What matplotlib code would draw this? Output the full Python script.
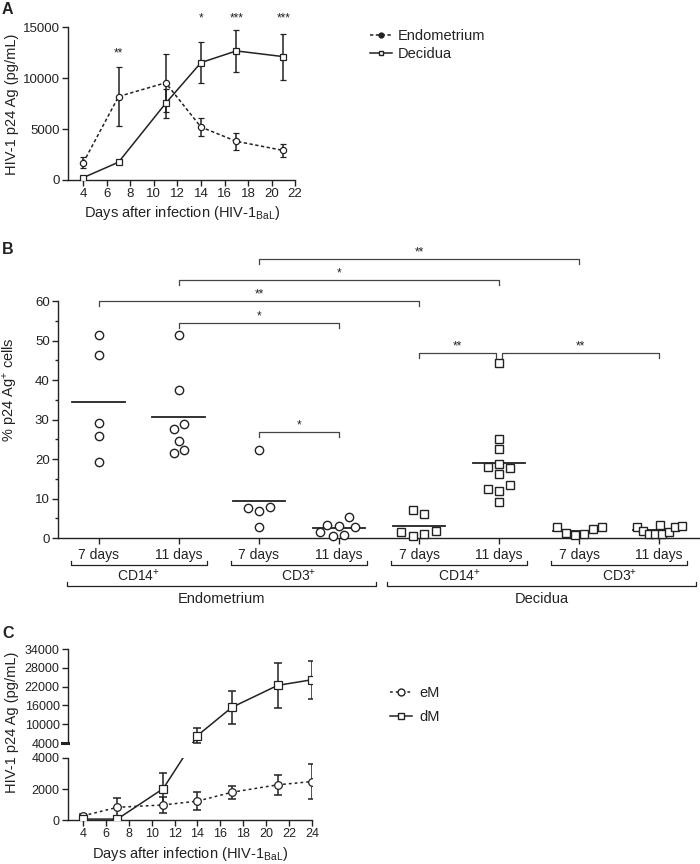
import matplotlib
matplotlib.use("Agg")
import matplotlib.pyplot as plt
from matplotlib.lines import Line2D
import numpy as np

plt.rcParams['font.family'] = ['Liberation Sans', 'DejaVu Sans']
plt.rcParams['mathtext.fontset'] = 'custom'
plt.rcParams['mathtext.rm'] = 'Liberation Sans'
plt.rcParams['mathtext.it'] = 'Liberation Sans:italic'
plt.rcParams['mathtext.bf'] = 'Liberation Sans:bold'

INK = '#222222'

# ---------------- Panel A data ----------------
days_a = [4, 7, 11, 14, 17, 21]
endo_a = [1700, 8200, 9550, 5200, 3800, 2900]
endo_a_err = [550, 2900, 2850, 870, 850, 600]
dec_a = [230, 1750, 7530, 11530, 12680, 12120]
dec_a_err = [120, 200, 1400, 2000, 2050, 2270]
stars_a_days = [7, 14, 17, 21]
stars_a_text = ['**', '*', '***', '***']
stars_a_y = [12450, 15900, 15900, 15900]

# ---------------- Panel B data ----------------
b_labels = ['7 days', '11 days', '7 days', '11 days',
            '7 days', '11 days', '7 days', '11 days']
# jitter offsets (in category units) and values, per group
b_x = [
    [0, 0, 0, 0, 0],
    [0, 0, 0.067, -0.067, 0, 0.067, -0.067],
    [0, -0.14, 0, 0.14, 0],
    [-0.24, -0.15, -0.075, 0, 0.065, 0.125, 0.2],
    [-0.075, 0.067, -0.22, -0.075, 0.067, 0.21],
    [0, 0, 0, 0, -0.14, 0.14, 0, -0.14, 0, 0.14, 0],
    [-0.28, -0.17, -0.05, 0.06, 0.17, 0.28],
    [-0.28, -0.2, -0.125, -0.05, 0.01, 0.04, 0.125, 0.2, 0.28],
]
b_y = [
    [51.5, 46.3, 29.0, 25.7, 19.2],
    [51.3, 37.4, 28.9, 27.7, 24.5, 22.3, 21.5],
    [22.2, 7.5, 6.8, 7.8, 2.9],
    [1.6, 3.2, 0.6, 3.1, 0.7, 5.4, 2.8],
    [7.0, 6.0, 1.6, 0.6, 1.1, 1.9],
    [44.2, 25.1, 22.5, 18.8, 17.9, 17.6, 16.1, 12.4, 12.0, 13.5, 9.1],
    [2.7, 1.3, 0.7, 0.9, 2.3, 2.7],
    [2.7, 1.9, 1.1, 0.9, 3.4, 0.9, 1.6, 2.7, 3.0],
]
b_marker = ['o', 'o', 'o', 'o', 's', 's', 's', 's']
# significance brackets: (group1, group2, level, text)
b_sig = [
    (2, 6, 70.6, '**'),
    (1, 5, 65.3, '*'),
    (0, 4, 60.0, '**'),
    (1, 3, 54.4, '*'),
    (2, 3, 26.8, '*'),
    (4, 4.96, 46.8, '**'),
    (5.04, 7, 46.8, '**'),
]
cell_labels = ['CD14$^{+}$', 'CD3$^{+}$', 'CD14$^{+}$', 'CD3$^{+}$']
tissue_labels = ['Endometrium', 'Decidua']

# ---------------- Panel C data ----------------
days_c = [4, 7, 11, 14, 17, 21, 24]
em_c = [270, 820, 970, 1220, 1790, 2270, 2480]
em_c_err = [100, 570, 500, 570, 420, 630, 1150]
dm_c = [60, 60, 2020, 6400, 15380, 22400, 24200]
dm_c_err = [40, 40, 1030, 2400, 5300, 7300, 6050]

fig = plt.figure(figsize=(7, 8.64), dpi=100)


def style(ax):
    for s in ['top', 'right']:
        ax.spines[s].set_visible(False)
    for s in ['left', 'bottom']:
        ax.spines[s].set_color(INK)
        ax.spines[s].set_linewidth(1.0)
    ax.tick_params(direction='out', length=4, width=1, color=INK,
                   labelcolor=INK, labelsize=9.5, pad=2)


def ylabel(text, x_px, y_px):
    fig.text(x_px / 700, 1 - y_px / 864, text, rotation=90, ha='center',
             va='center', fontsize=10.5, color=INK)


# ================= Panel A =================
axA = fig.add_axes([0.0976, 0.7917, 0.324, 0.1767])
style(axA)
axA.errorbar(days_a, endo_a, yerr=endo_a_err, color=INK, lw=1.1,
             ls=(0, (2.2, 1.6)), marker='o', ms=4.5, mfc='white', mec=INK,
             mew=0.9, capsize=2.5, elinewidth=1.1, capthick=1.1, zorder=3)
axA.errorbar(days_a, dec_a, yerr=dec_a_err, color=INK, lw=1.1, ls='-',
             marker='s', ms=4.5, mfc='white', mec=INK, mew=0.9,
             capsize=2.5, elinewidth=1.1, capthick=1.1, zorder=3)
for d, t, y in zip(stars_a_days, stars_a_text, stars_a_y):
    axA.text(d, y, t, ha='center', va='center', fontsize=8.5, color=INK,
             clip_on=False)
axA.set_xlim(2.73, 22)
axA.set_ylim(0, 15000)
axA.set_xticks(np.arange(4, 23, 2))
axA.set_yticks([0, 5000, 10000, 15000])
axA.set_xlabel('Days after infection (HIV-1$_{\\mathrm{BaL}}$)',
               fontsize=10.5, color=INK, labelpad=3)
ylabel('HIV-1 p24 Ag (pg/mL)', 12, 104)

legA = [Line2D([], [], color=INK, lw=1.1, ls=(0, (2.2, 1.6)), marker='o',
               ms=3.5, mfc=INK, mec=INK),
        Line2D([], [], color=INK, lw=1.1, ls='-', marker='s', ms=3.5,
               mfc='white', mec=INK)]
fig.legend(legA, ['Endometrium', 'Decidua'], loc='upper left',
           bbox_to_anchor=(370 / 700, 1 - 29 / 864), frameon=False,
           fontsize=10.5, handlelength=1.5, handletextpad=0.4,
           labelspacing=0.25, borderpad=0, borderaxespad=0, labelcolor=INK)

# ================= Panel B =================
axB = fig.add_axes([0.0829, 0.3773, 0.9171, 0.2743])
style(axB)
for i in range(8):
    xs = [i + o for o in b_x[i]]
    axB.plot(xs, b_y[i], ls='none', marker=b_marker[i], ms=6,
             mfc='white', mec=INK, mew=1.0, clip_on=False, zorder=3)
    m = np.mean(b_y[i])
    axB.plot([i - 0.33, i + 0.33], [m, m], color=INK, lw=1.3, zorder=2)

for g1, g2, lvl, txt in b_sig:
    axB.plot([g1, g1, g2, g2], [lvl - 1.3, lvl, lvl, lvl - 1.3], color='#444444',
             lw=0.9, clip_on=False)
    axB.text((g1 + g2) / 2, lvl + 0.2, txt, ha='center', va='bottom',
             fontsize=8.5, color=INK, clip_on=False)

axB.set_xlim(-0.51, 7.51)
axB.set_ylim(0, 60)
axB.set_yticks(np.arange(0, 61, 10))
axB.set_yticks(np.arange(5, 60, 10), minor=True)
axB.tick_params(axis='y', which='minor', length=2, width=1, color=INK)
axB.set_xticks(range(8))
axB.set_xticklabels(b_labels, fontsize=10)
axB.tick_params(axis='x', pad=3)
ylabel('% p24 Ag$^{+}$ cells', 11, 390)

tr = axB.get_xaxis_transform()
for k, lab in enumerate(cell_labels):
    c = 2 * k + 0.5
    axB.plot([c - 0.85, c - 0.85, c + 0.85, c + 0.85],
             [-0.097, -0.114, -0.114, -0.097], transform=tr, color=INK,
             lw=0.9, clip_on=False)
    axB.text(c, -0.157, lab, transform=tr, ha='center', va='center',
             fontsize=10, color=INK)
for k, lab in enumerate(tissue_labels):
    c = 4 * k + 1.53
    axB.plot([c - 1.93, c - 1.93, c + 1.93, c + 1.93],
             [-0.186, -0.203, -0.203, -0.186], transform=tr, color=INK,
             lw=0.9, clip_on=False)
    axB.text(c, -0.257, lab, transform=tr, ha='center', va='center',
             fontsize=10.5, color=INK)

# ================= Panel C =================
axCu = fig.add_axes([0.0971, 0.1400, 0.3486, 0.1088])
axCl = fig.add_axes([0.0971, 0.0509, 0.3486, 0.0718])
for ax in (axCu, axCl):
    style(ax)
    ax.set_xlim(2.69, 24.0)
axCu.spines['bottom'].set_visible(False)
axCu.tick_params(axis='x', bottom=False, labelbottom=False)
axCu.set_ylim(4000, 34000)
axCu.set_yticks([4000, 10000, 16000, 22000, 28000, 34000])
axCu.tick_params(axis='y', labelsize=9)
axCl.set_ylim(0, 4000)
axCl.set_yticks([0, 2000, 4000])
axCl.set_xticks(np.arange(4, 25, 2))
axCl.tick_params(labelsize=9)

ekw = dict(color=INK, marker=None, capsize=2.8, elinewidth=1.1,
           capthick=1.1, ls='none')
# eM (all in lower axis)
axCl.errorbar(days_c, em_c, yerr=em_c_err, zorder=3, **ekw)
axCl.plot(days_c, em_c, color=INK, lw=1.1, ls=(0, (1.8, 2.0)), marker='o',
          ms=5.5, mfc='white', mec=INK, mew=0.9, zorder=4)

# dM: first three points in lower, rest in upper
lo = slice(0, 3)
hi = slice(3, None)
axCl.errorbar(days_c[lo], dm_c[lo], yerr=dm_c_err[lo], zorder=3, **ekw)
axCl.plot(days_c[lo], dm_c[lo], color=INK, lw=1.1, marker='s', ms=5.5,
          mfc='white', mec=INK, mew=0.9, zorder=4)
axCu.errorbar(days_c[hi], dm_c[hi], yerr=dm_c_err[hi], zorder=3, **ekw)
axCu.plot(days_c[hi], dm_c[hi], color=INK, lw=1.1, marker='s', ms=5.5,
          mfc='white', mec=INK, mew=0.9, zorder=4)

# straight connector across the axis break (computed through transforms)
p_up = axCu.transData.transform((days_c[3], dm_c[3]))
p_lo = axCl.transData.transform((days_c[2], dm_c[2]))
q_in_lo = axCl.transData.inverted().transform(p_up)
q_in_up = axCu.transData.inverted().transform(p_lo)
axCl.plot([days_c[2], q_in_lo[0]], [dm_c[2], q_in_lo[1]], color=INK, lw=1.1,
          zorder=2)
axCu.plot([q_in_up[0], days_c[3]], [q_in_up[1], dm_c[3]], color=INK, lw=1.1,
          zorder=2)

# break marker at the bottom of the upper axis
axCu.plot([0, -0.025], [0, 0], transform=axCu.transAxes, color=INK, lw=2.2,
          clip_on=False)

axCl.set_xlabel('Days after infection (HIV-1$_{\\mathrm{BaL}}$)',
                fontsize=10.5, color=INK, labelpad=3)
ylabel('HIV-1 p24 Ag (pg/mL)', 12, 722)

legC = [Line2D([], [], color=INK, lw=1.1, ls=(0, (1.8, 2.0)), marker='o',
               ms=5, mfc='white', mec=INK),
        Line2D([], [], color=INK, lw=1.1, ls='-', marker='s', ms=5,
               mfc='white', mec=INK)]
fig.legend(legC, ['eM', 'dM'], loc='upper left',
           bbox_to_anchor=(390 / 700, 1 - 686 / 864), frameon=False,
           fontsize=10.5, handlelength=1.5, handletextpad=0.5,
           labelspacing=0.7, borderpad=0, borderaxespad=0, labelcolor=INK)

# panel letters
for lab, y in [('A', 9), ('B', 250), ('C', 633)]:
    fig.text(2 / 700, 1 - y / 864, lab, fontsize=11.5, fontweight='bold',
             ha='left', va='center', color=INK)

fig.savefig('out.png', dpi=100)
